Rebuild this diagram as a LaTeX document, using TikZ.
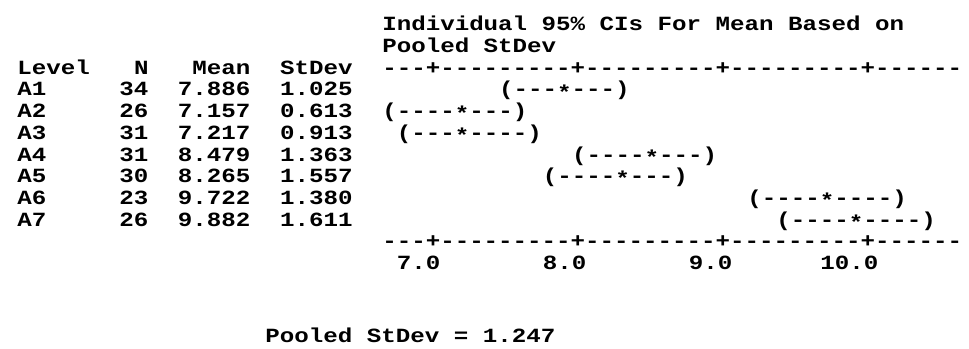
\documentclass[tikz,border=0pt]{standalone}
\usepackage{fontspec}
\usepackage{tikz}
\newfontfamily\mtbfont[Ligatures=TeXOff,FakeStretch=1.2]{Liberation Mono Bold}

\tikzset{
  mtb/.style={font=\mtbfont\fontsize{15.1}{17}\selectfont, inner sep=0pt, anchor=base west},
}
\newcommand{\ci}[2]{(#1\raisebox{-.3ex}{*}#2)}

\begin{document}
\begin{tikzpicture}[x=0.75pt, y=-0.75pt]
    % Page frame
    \fill[white] (0,0) rectangle (969,349);
    \useasboundingbox (0,0) rectangle (969,349);

    % Title of the interval plot
    \node[mtb] (title1) at (382,30.9) {Individual 95\% CIs For Mean Based on};
    \node[mtb] (title2) at (382,52.6) {Pooled StDev};

    % Header row and upper scale
    \node[mtb] (hlevel) at (17,74.3) {Level};
    \node[mtb] (hn) at (133.8,74.3) {N};
    \node[mtb] (hmean) at (192.2,74.3) {Mean};
    \node[mtb] (hsd) at (279.8,74.3) {StDev};
    \node[mtb] (topscale) at (382,74.3) {---+---------+---------+---------+------};

    % A1
    \node[mtb] (lv1) at (17,96) {A1};
    \node[mtb] (n1) at (119.2,96) {34};
    \node[mtb] (m1) at (177.6,96) {7.886};
    \node[mtb] (sd1) at (279.8,96) {1.025};
    \node[mtb] (ci1) at (498.8,96) {\ci{---}{---}};

    % A2
    \node[mtb] (lv2) at (17,117.7) {A2};
    \node[mtb] (n2) at (119.2,117.7) {26};
    \node[mtb] (m2) at (177.6,117.7) {7.157};
    \node[mtb] (sd2) at (279.8,117.7) {0.613};
    \node[mtb] (ci2) at (382,117.7) {\ci{----}{---}};

    % A3
    \node[mtb] (lv3) at (17,139.4) {A3};
    \node[mtb] (n3) at (119.2,139.4) {31};
    \node[mtb] (m3) at (177.6,139.4) {7.217};
    \node[mtb] (sd3) at (279.8,139.4) {0.913};
    \node[mtb] (ci3) at (396.6,139.4) {\ci{---}{----}};

    % A4
    \node[mtb] (lv4) at (17,161.1) {A4};
    \node[mtb] (n4) at (119.2,161.1) {31};
    \node[mtb] (m4) at (177.6,161.1) {8.479};
    \node[mtb] (sd4) at (279.8,161.1) {1.363};
    \node[mtb] (ci4) at (571.8,161.1) {\ci{----}{---}};

    % A5
    \node[mtb] (lv5) at (17,182.8) {A5};
    \node[mtb] (n5) at (119.2,182.8) {30};
    \node[mtb] (m5) at (177.6,182.8) {8.265};
    \node[mtb] (sd5) at (279.8,182.8) {1.557};
    \node[mtb] (ci5) at (542.6,182.8) {\ci{----}{---}};

    % A6
    \node[mtb] (lv6) at (17,204.5) {A6};
    \node[mtb] (n6) at (119.2,204.5) {23};
    \node[mtb] (m6) at (177.6,204.5) {9.722};
    \node[mtb] (sd6) at (279.8,204.5) {1.380};
    \node[mtb] (ci6) at (747,204.5) {\ci{----}{----}};

    % A7
    \node[mtb] (lv7) at (17,226.2) {A7};
    \node[mtb] (n7) at (119.2,226.2) {26};
    \node[mtb] (m7) at (177.6,226.2) {9.882};
    \node[mtb] (sd7) at (279.8,226.2) {1.611};
    \node[mtb] (ci7) at (776.2,226.2) {\ci{----}{----}};

    % Lower scale and its values
    \node[mtb] (botscale) at (382,247.9) {---+---------+---------+---------+------};
    \node[mtb] (t7) at (396.6,269.6) {7.0};
    \node[mtb] (t8) at (542.6,269.6) {8.0};
    \node[mtb] (t9) at (688.6,269.6) {9.0};
    \node[mtb] (t10) at (820,269.6) {10.0};

    % Pooled value
    \node[mtb] (pooled) at (265.2,342) {Pooled StDev = 1.247};
\end{tikzpicture}
\end{document}
